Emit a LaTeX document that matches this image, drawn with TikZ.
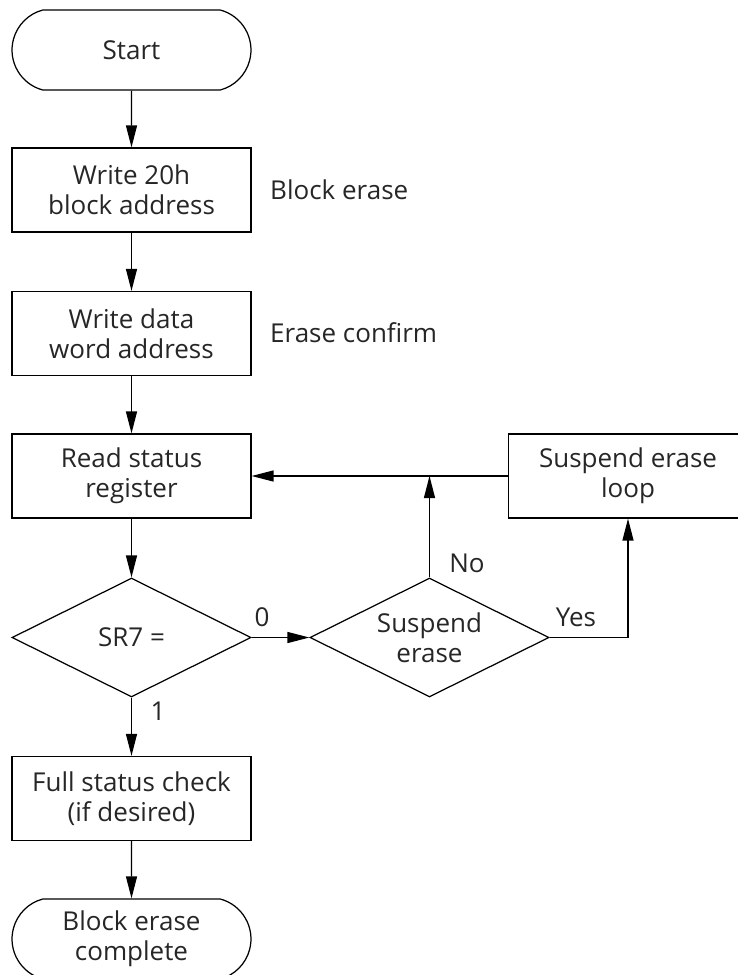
\documentclass[tikz,border=0pt]{standalone}
\usepackage{fontspec}
\setmainfont{Open Sans}
\usepackage{tikz}
\usetikzlibrary{arrows.meta, positioning, shapes.geometric, shapes.misc}

\begin{document}
\begin{tikzpicture}[x=0.02cm, y=-0.02cm,
    every node/.style={font=\fontsize{14.8}{17.2}\selectfont, text=black!85},
    box/.style={rectangle, draw, line width=0.7pt, minimum width=4.78cm,
                minimum height=1.68cm, align=center, inner sep=0pt},
    term/.style={rounded rectangle, rounded rectangle arc length=150, draw,
                 line width=0.7pt, minimum width=4.78cm, minimum height=1.6cm,
                 align=center, inner sep=0pt},
    decide/.style={diamond, draw, line width=0.7pt, minimum width=4.78cm,
                   minimum height=2.38cm, align=center, inner sep=0pt, aspect=2},
    arr/.style={-{Triangle[length=0.44cm, width=0.22cm]}, line width=0.7pt},
    lbl/.style={anchor=west}
]
\useasboundingbox (0,0) rectangle (738,975);

\node[term]   (start)  at (131.5,50)    {Start};
\node[box]    (wr20)   at (131.5,190)   {Write 20h\\block address};
\node[box]    (wrdata) at (131.5,333.5) {Write data\\word address};
\node[box]    (rdsr)   at (131.5,476)   {Read status\\register};
\node[decide] (sr7)    at (131.5,637.5) {SR7 =};
\node[decide] (susp)   at (429.5,637.5) {Suspend\\erase};
\node[box]    (loop)   at (628,476)     {Suspend erase\\loop};
\node[box]    (full)   at (131.5,798.5) {Full status check\\(if desired)};
\node[term]   (done)   at (131.5,939)   {Block erase\\complete};

\node[lbl] (lblerase)   at (264,190) {Block erase};
\node[lbl] (lblconfirm) at (264,333) {Erase confirm};

\draw[arr] (start) -- (wr20);
\draw[arr] (wr20) -- (wrdata);
\draw[arr] (wrdata) -- (rdsr);
\draw[arr] (rdsr) -- (sr7);
\draw[arr] (sr7.east) -- (susp.west);
\draw[arr] (sr7.south) -- (full.north);
\draw[arr] (full) -- (done);
\draw[arr] (susp.east) -| (loop.south);
\draw[arr] (loop.west) -- (rdsr.east);
\draw[arr] (susp.north) -- (susp.north |- loop.west);

\node (zero) at (262,617) {0};
\node (one)  at (158,711) {1};
\node (no)   at (467,563) {No};
\node (yes)  at (576,617) {Yes};
\end{tikzpicture}
\end{document}
